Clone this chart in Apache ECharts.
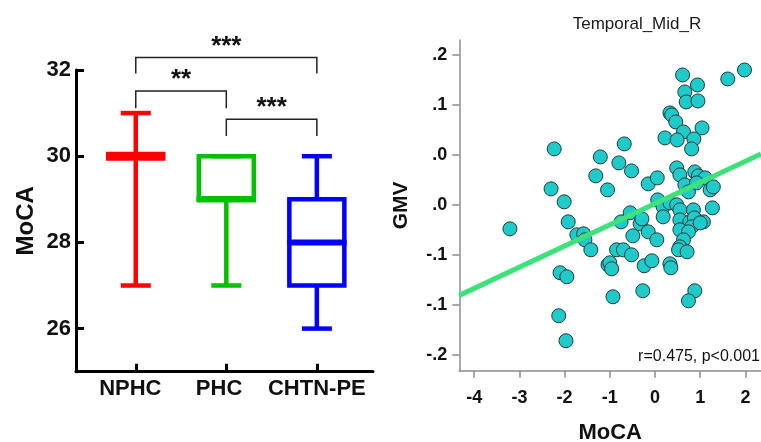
<!DOCTYPE html>
<html><head><meta charset="utf-8">
<script src="https://cdn.jsdelivr.net/npm/echarts@6/dist/echarts.min.js"></script>
<style>html,body{margin:0;padding:0;background:#fff}#c{width:761px;height:442px}</style>
</head><body><div id="c"></div>
<script>
// ---------- DATA ----------
const categories = ['NPHC', 'PHC', 'CHTN-PE'];
const boxMin    = [27, 27, 26];
const boxQ1     = [30, 29, 27];
const boxMedian = [30, 29, 28];
const boxQ3     = [30, 30, 29];
const boxMax    = [31, 30, 30];
const leftYTicks = [26, 28, 30, 32];
// comparisons: [groupA, groupB, label]
const comparisons = [[0, 2, '***'], [0, 1, '**'], [1, 2, '***']];

const moca = [-3.21,-2.23,-2.30,-2.01,-1.92,-1.73,-1.58,-1.55,-1.42,-2.10,-1.95,-2.13,-1.97,
  -1.21,-1.31,-1.05,-0.68,-0.80,-0.52,-0.15,0.05,-0.75,-0.55,-0.33,-0.29,-0.15,-0.49,0.04,-0.85,-0.70,-0.52,-1.04,-1.00,-0.96,-0.24,-0.07,-0.93,-0.27,
  0.61,0.94,0.66,0.69,0.95,1.61,1.98,0.33,0.37,0.46,1.04,0.63,0.22,0.49,0.86,0.81,
  0.48,0.55,0.88,0.96,1.11,0.66,0.74,0.92,1.22,1.29,
  0.06,0.18,0.18,0.33,0.48,0.55,0.85,1.27,0.55,0.77,0.87,1.07,0.81,0.55,0.74,0.63,0.55,0.52,0.71,0.33,0.88,0.74,0.35,1.00];
const gmv = [-0.024,0.056,0.016,0.003,-0.017,-0.030,-0.029,-0.035,-0.045,-0.068,-0.072,-0.111,-0.136,
  0.048,0.029,0.015,0.061,0.042,0.034,0.021,0.027,-0.017,-0.008,-0.019,-0.014,-0.027,-0.031,-0.035,-0.045,-0.045,-0.050,-0.060,-0.058,-0.064,-0.061,-0.056,-0.092,-0.086,
  0.130,0.120,0.113,0.103,0.104,0.126,0.135,0.092,0.090,0.083,0.077,0.073,0.067,0.065,0.066,0.056,
  0.037,0.030,0.033,0.029,0.027,0.020,0.013,0.022,0.015,0.018,
  0.005,-0.002,-0.012,0.002,0.000,-0.005,-0.005,-0.003,-0.015,-0.017,-0.013,-0.017,-0.022,-0.025,-0.027,-0.035,-0.042,-0.045,-0.047,-0.059,-0.086,-0.096,-0.063,-0.018];
const fitIntercept = 0.0012;
const fitSlope = 0.0212;
const rightXTicks = [-4, -3, -2, -1, 0, 1, 2];
const rightYTickValues = [-0.15, -0.1, -0.05, 0, 0.05, 0.1, 0.15];
const rightYTickLabels = ['-.2', '-.1', '-.1', '.0', '.0', '.1', '.2'];
const corrText = 'r=0.475, p<0.001';
const rightTitle = 'Temporal_Mid_R';

// ---------- STYLE / LAYOUT ----------
const FONT = 'Liberation Sans, Arial, sans-serif';
const boxColors = ['#ff0000', '#00c000', '#0000ff'];
const medianWidths = [9, 6.5, 6];
const boxLineW = 4.5, boxHalfW = 27.5, capHalfW = 15;
const catLabelPos = [0.94, 1.92, 3.0];
const bracketTop  = [32.29, 31.51, 30.86];
const bracketDrop = [31.92, 31.11, 30.47];
const leftXRange = [0.34, 3.62];
const rightXRange = [-4.33, 2.345];
const rightYRange = [-0.166, 0.165];

const boxData = categories.map((c, i) => [i + 1, boxMin[i], boxQ1[i], boxMedian[i], boxQ3[i], boxMax[i]]);
const bracketData = comparisons.map((c, i) => [c[0] + 1, c[1] + 1, bracketTop[i], bracketDrop[i], i]);
const scatterData = moca.map((x, i) => [x, gmv[i]]);
const fitData = rightXRange.map(x => [x, fitIntercept + fitSlope * x]);

const chart = echarts.init(document.getElementById('c'), null, {renderer: 'canvas'});
chart.setOption({
  animation: false,
  backgroundColor: '#fff',
  textStyle: {fontFamily: FONT},
  title: {
    text: rightTitle, left: 632, top: 11, textAlign: 'center',
    textStyle: {fontFamily: FONT, fontSize: 17, fontWeight: 'normal', color: '#1a1a1a'}
  },
  graphic: [{
    type: 'text', right: 1, top: 349,
    style: {text: corrText, font: '16px ' + FONT, fill: '#111'}
  }],
  grid: [
    {left: 76, right: 388, top: 70, bottom: 70.3, outerBoundsMode: 'none', containLabel: false},
    {left: 459.3, right: 0, top: 40, bottom: 71.3, outerBoundsMode: 'none', containLabel: false}
  ],
  xAxis: [{
    gridIndex: 0, type: 'value', min: leftXRange[0], max: leftXRange[1],
    axisLine: {show: true, lineStyle: {color: '#000', width: 3}},
    axisTick: {show: true, inside: true, length: 8, customValues: [1, 2, 3], lineStyle: {color: '#000', width: 3}},
    axisLabel: {
      show: true, customValues: catLabelPos, margin: 6,
      formatter: v => categories[catLabelPos.indexOf(v)] || '',
      fontFamily: FONT, fontSize: 22, fontWeight: 'bold', color: '#111'
    },
    splitLine: {show: false}
  }, {
    gridIndex: 1, type: 'value', min: rightXRange[0], max: rightXRange[1],
    name: 'MoCA', nameLocation: 'middle', nameGap: 51,
    nameTextStyle: {fontFamily: FONT, fontSize: 22, fontWeight: 'bold', color: '#111'},
    axisLine: {show: true, onZero: false, lineStyle: {color: '#8c8c8c', width: 1.5}},
    axisTick: {show: true, length: 7, customValues: rightXTicks, lineStyle: {color: '#8c8c8c', width: 1.5}},
    axisLabel: {show: true, customValues: rightXTicks, margin: 18,
      fontFamily: FONT, fontSize: 18, fontWeight: 'bold', color: '#111'},
    splitLine: {show: false}
  }],
  yAxis: [{
    gridIndex: 0, type: 'value', min: 25, max: 32,
    name: 'MoCA', nameLocation: 'middle', nameGap: 38, nameRotate: 90,
    nameTextStyle: {fontFamily: FONT, fontSize: 24, fontWeight: 'bold', color: '#111'},
    axisLine: {show: true, lineStyle: {color: '#000', width: 3}},
    axisTick: {show: true, inside: true, length: 8, customValues: leftYTicks, lineStyle: {color: '#000', width: 3}},
    axisLabel: {show: true, customValues: leftYTicks, margin: 5,
      fontFamily: FONT, fontSize: 22, fontWeight: 'bold', color: '#111'},
    splitLine: {show: false}
  }, {
    gridIndex: 1, type: 'value', min: rightYRange[0], max: rightYRange[1],
    name: 'GMV', nameLocation: 'middle', nameGap: 48, nameRotate: 90,
    nameTextStyle: {fontFamily: FONT, fontSize: 21, fontWeight: 'bold', color: '#111'},
    axisLine: {show: true, onZero: false, lineStyle: {color: '#8c8c8c', width: 1.5}},
    axisTick: {show: true, length: 7, customValues: rightYTickValues, lineStyle: {color: '#8c8c8c', width: 1.5}},
    axisLabel: {show: true, customValues: rightYTickValues, margin: 12,
      formatter: v => {
        let k = rightYTickValues.findIndex(t => Math.abs(t - v) < 1e-9);
        return k >= 0 ? rightYTickLabels[k] : '';
      },
      fontFamily: FONT, fontSize: 18, fontWeight: 'bold', color: '#111'},
    splitLine: {show: false}
  }],
  series: [{
    type: 'custom', xAxisIndex: 0, yAxisIndex: 0, clip: false,
    data: boxData,
    renderItem: function (params, api) {
      const i = params.dataIndex, col = boxColors[i];
      const x = api.value(0);
      const pMin = api.coord([x, api.value(1)]);
      const pQ1 = api.coord([x, api.value(2)]);
      const pMed = api.coord([x, api.value(3)]);
      const pQ3 = api.coord([x, api.value(4)]);
      const pMax = api.coord([x, api.value(5)]);
      const cx = pMin[0];
      const st = {stroke: col, lineWidth: boxLineW, fill: null};
      const ch = [];
      if (pMin[1] > pQ1[1]) ch.push({type: 'line', shape: {x1: cx, y1: pMin[1], x2: cx, y2: pQ1[1]}, style: st});
      if (pMax[1] < pQ3[1]) ch.push({type: 'line', shape: {x1: cx, y1: pQ3[1], x2: cx, y2: pMax[1]}, style: st});
      ch.push({type: 'line', shape: {x1: cx - capHalfW, y1: pMin[1], x2: cx + capHalfW, y2: pMin[1]}, style: st});
      ch.push({type: 'line', shape: {x1: cx - capHalfW, y1: pMax[1], x2: cx + capHalfW, y2: pMax[1]}, style: st});
      ch.push({type: 'rect', shape: {x: cx - boxHalfW, y: pQ3[1], width: boxHalfW * 2, height: pQ1[1] - pQ3[1]}, style: st});
      ch.push({type: 'line', shape: {x1: cx - boxHalfW - boxLineW / 2, y1: pMed[1], x2: cx + boxHalfW + boxLineW / 2, y2: pMed[1]},
        style: {stroke: col, lineWidth: medianWidths[i]}});
      return {type: 'group', children: ch};
    }
  }, {
    type: 'custom', xAxisIndex: 0, yAxisIndex: 0, clip: false,
    data: bracketData,
    renderItem: function (params, api) {
      const a = api.coord([api.value(0), api.value(2)]);
      const b = api.coord([api.value(1), api.value(2)]);
      const d = api.coord([api.value(0), api.value(3)]);
      const lbl = comparisons[api.value(4)][2];
      return {type: 'group', children: [
        {type: 'polyline', shape: {points: [[a[0], d[1]], [a[0], a[1]], [b[0], b[1]], [b[0], d[1]]]},
          style: {stroke: '#222', lineWidth: 1.5, fill: null}},
        {type: 'text', x: (a[0] + b[0]) / 2, y: a[1] - 11,
          style: {text: lbl, font: 'bold 26px ' + FONT, fill: '#111', align: 'center', verticalAlign: 'middle'}}
      ]};
    }
  }, {
    type: 'scatter', xAxisIndex: 1, yAxisIndex: 1, data: scatterData,
    symbol: 'circle', symbolSize: 14,
    itemStyle: {color: '#1fcaca', borderColor: '#263838', borderWidth: 1, opacity: 1},
    z: 2
  }, {
    type: 'line', xAxisIndex: 1, yAxisIndex: 1, data: fitData,
    symbol: 'none', lineStyle: {color: '#3ee27a', width: 5}, z: 3, silent: true
  }]
});
</script></body></html>
